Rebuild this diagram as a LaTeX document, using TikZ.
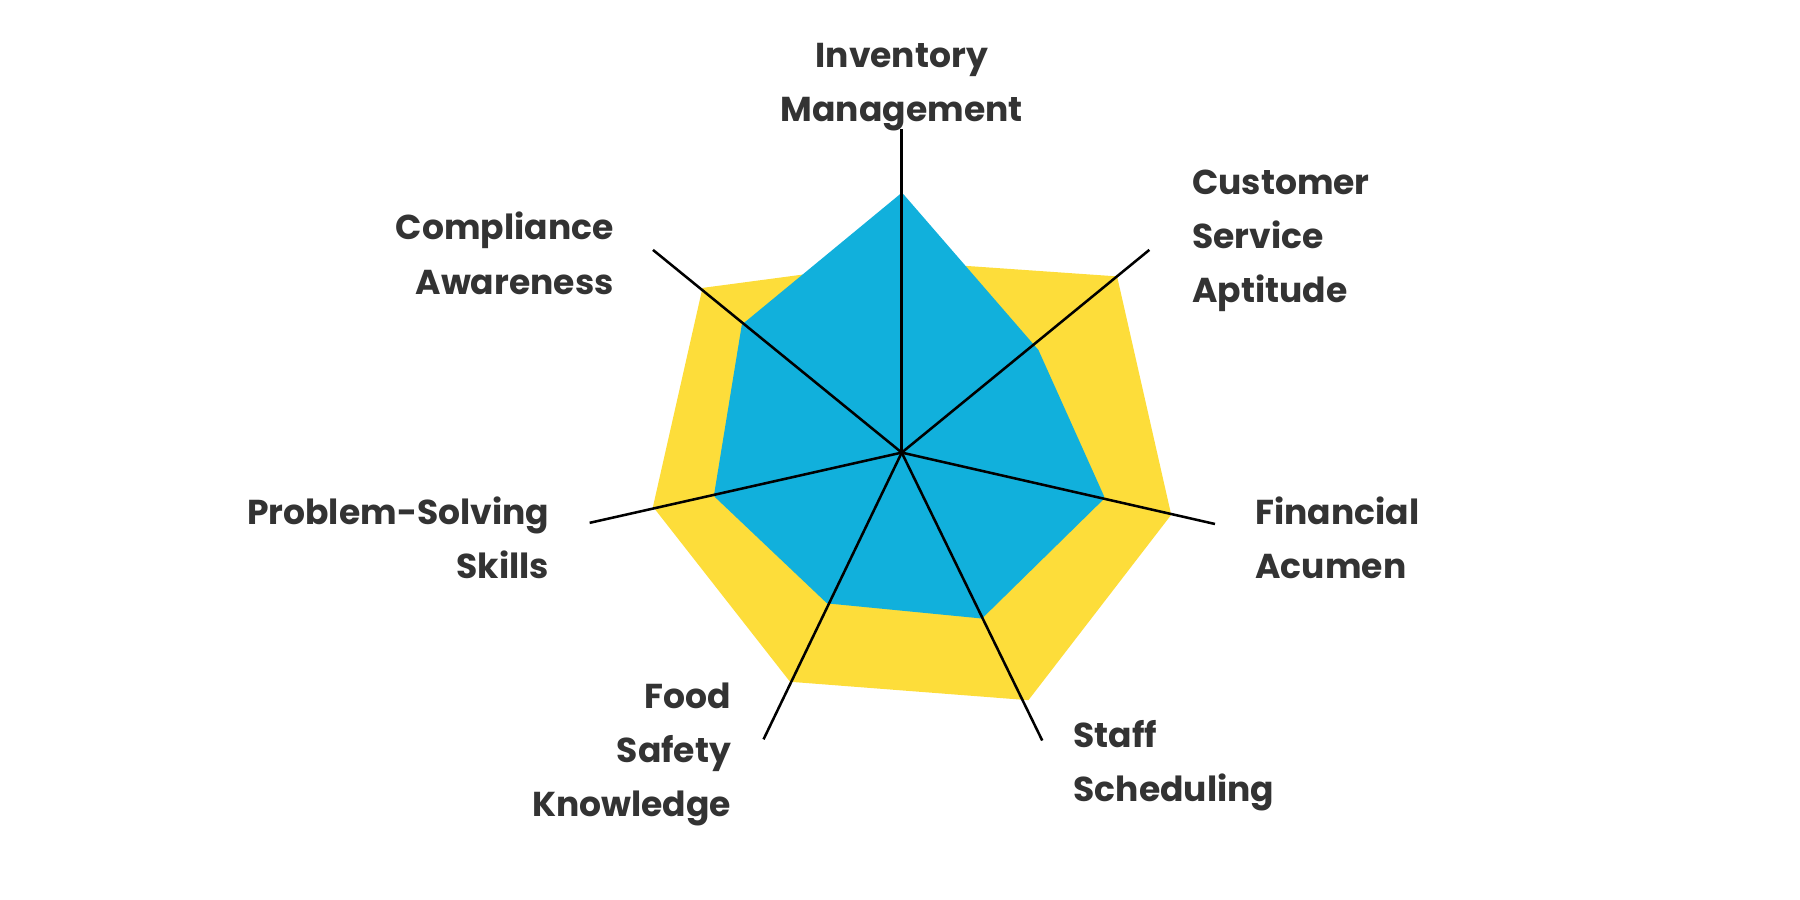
\documentclass[tikz,border=0pt]{standalone}
\usepackage{fontspec}
\setmainfont{Poppins}
\begin{document}
\begin{tikzpicture}[x=1pt,y=-1pt]
\definecolor{yel}{HTML}{FDDD3A}
\definecolor{blu}{HTML}{11B0DC}
\definecolor{txt}{HTML}{333333}
\tikzset{lbl/.style={text=txt,font=\fontsize{30}{47}\selectfont\bfseries,align=#1,inner sep=0pt},
 axis/.style={draw=black,line width=2.2pt}}
\useasboundingbox (0,0) rectangle (1563,781);
\coordinate (c) at (783,393);
\fill[yel] (783,227) -- (970,240) -- (1017,447) -- (893,608) -- (686,592) -- (567,440) -- (610,250) -- cycle;
\fill[blu,draw=blu,line width=4pt,line join=round] (783,170) -- (900,305) -- (957,432) -- (852,535) -- (719,522) -- (622,430) -- (646,283) -- cycle;
\coordinate (a1) at (783,112);
\coordinate (a2) at (998,217);
\coordinate (a3) at (1055,455);
\coordinate (a4) at (905,643);
\coordinate (a5) at (663,642);
\coordinate (a6) at (512,454);
\coordinate (a7) at (567,217);
\foreach \i in {1,...,7} \draw[axis] (c) -- (a\i);
\node[lbl=center,anchor=center] (l1) at (783,76) {Inventory\\Management};
\node[lbl=left,anchor=west] (l2) at (1035,209) {Customer\\Service\\Aptitude};
\node[lbl=left,anchor=west] (l3) at (1090,467) {Financial\\Acumen};
\node[lbl=left,anchor=west] (l4) at (932,665) {Staff\\Scheduling};
\node[lbl=right,anchor=east] (l5) at (635,655) {Food\\Safety\\Knowledge};
\node[lbl=right,anchor=east] (l6) at (477,467) {Problem-Solving\\Skills};
\node[lbl=right,anchor=east] (l7) at (533,220) {Compliance\\Awareness};
\end{tikzpicture}
\end{document}
